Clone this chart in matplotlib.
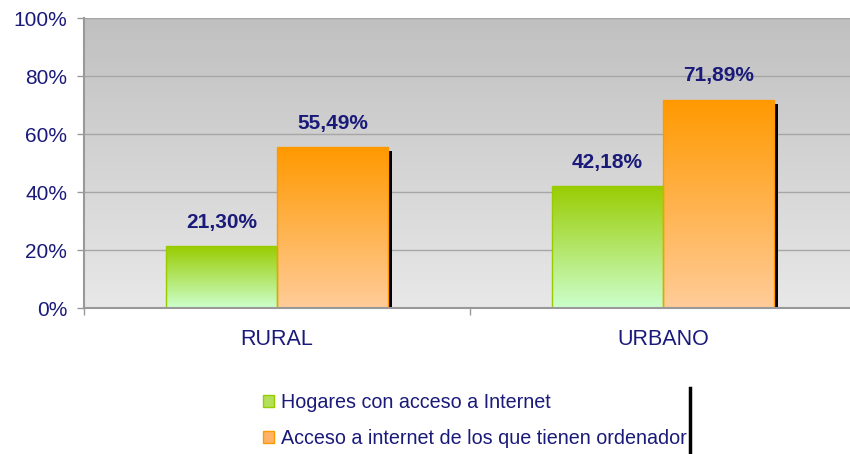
import numpy as np
import matplotlib
matplotlib.use("Agg")
import matplotlib.pyplot as plt
from matplotlib.patches import Patch
from matplotlib.lines import Line2D
from matplotlib.colors import LinearSegmentedColormap
import matplotlib.patheffects as pe

categories = ["RURAL", "URBANO"]
hogares = [21.30, 42.18]
acceso_ordenador = [55.49, 71.89]
series_names = ["Hogares con acceso a Internet",
                "Acceso a internet de los que tienen ordenador"]
yticks = [0, 20, 40, 60, 80, 100]

plt.rcParams['font.family'] = ['Liberation Sans', 'DejaVu Sans']
navy = '#1a1a7a'

fig = plt.figure(figsize=(8.5, 4.54), dpi=100)
ax = fig.add_axes([84/850, 146/454, 772/850, 290/454])

x = np.arange(len(categories))
w = 0.287
ax.set_xlim(-0.5, len(categories) - 0.5)
ax.set_ylim(0, 100)

# background gradient
bg = LinearSegmentedColormap.from_list('bg', ['#e8e8e8', '#c0c0c0'])
ax.imshow(np.linspace(0, 1, 256).reshape(-1, 1), cmap=bg, aspect='auto',
          extent=[0, 1, 0, 1], transform=ax.transAxes, origin='lower', zorder=0)

for yv in yticks[1:]:
    ax.axhline(yv, color='#a6a6a6', lw=1.0, zorder=1)

green_cmap = LinearSegmentedColormap.from_list('g', ['#ccffcc', '#99cc00'])
orange_cmap = LinearSegmentedColormap.from_list('o', ['#ffcc99', '#ff9900'])

b1 = ax.bar(x - w, hogares, width=w, align='edge', facecolor='none',
            edgecolor='#99cc00', lw=1.0, zorder=3)
b2 = ax.bar(x, acceso_ordenador, width=w, align='edge', facecolor='none',
            edgecolor='#ff9900', lw=1.0, zorder=3)

# shadow for orange bars
ax.bar(x, acceso_ordenador, width=w, align='edge', facecolor='black',
       edgecolor='none', zorder=2,
       path_effects=[pe.withSimplePatchShadow(offset=(3.0, -3.0), shadow_rgbFace='black', alpha=1.0)])

grad = np.linspace(0, 1, 256).reshape(-1, 1)
for bars, cm in ((b1, green_cmap), (b2, orange_cmap)):
    for r in bars:
        x0, y0 = r.get_x(), r.get_y()
        im = ax.imshow(grad, cmap=cm, aspect='auto', origin='lower',
                       extent=[x0, x0 + r.get_width(), y0, y0 + r.get_height()], zorder=2.5)
        im.set_clip_path(r)
ax.set_xlim(-0.5, len(categories) - 0.5)
ax.set_ylim(0, 100)

def fmt(v):
    return f"{v:.2f}".replace('.', ',') + '%'

for bars, vals in ((b1, hogares), (b2, acceso_ordenador)):
    for r, v in zip(bars, vals):
        ax.annotate(fmt(v), (r.get_x() + r.get_width() / 2, v), xytext=(0, 17),
                    textcoords='offset points', ha='center', va='center',
                    fontsize=15, fontweight='bold', color=navy, zorder=5)

ax.set_yticks(yticks)
ax.set_yticklabels([f"{t}%" for t in yticks])
ax.tick_params(axis='y', colors='#999999', labelcolor=navy, labelsize=15,
               length=5, width=1, pad=7)
ax.set_xticks([-0.5, 0.5, 1.5])
ax.set_xticklabels([])
ax.set_xticks(x, minor=True)
ax.set_xticklabels(categories, minor=True)
ax.tick_params(axis='x', which='major', colors='#999999', length=5, width=1)
ax.tick_params(axis='x', which='minor', length=0, labelsize=15.5, labelcolor=navy, pad=15)

for s in ('top', 'right'):
    ax.spines[s].set_visible(False)
for s in ('left', 'bottom'):
    ax.spines[s].set_color('#999999')
    ax.spines[s].set_linewidth(1.5)
    ax.spines[s].set_zorder(4)

handles = [Patch(facecolor='#b3e05a', edgecolor='#99cc00', label=series_names[0]),
           Patch(facecolor='#ffb366', edgecolor='#ff9900', label=series_names[1])]
leg = fig.legend(handles=handles, loc='upper left', bbox_to_anchor=(249/850, 1 - 379/454),
                 frameon=False, fontsize=14.2, handlelength=0.55, handleheight=0.55,
                 handletextpad=0.35, labelspacing=0.85, borderpad=0.2)
for t in leg.get_texts():
    t.set_color(navy)

fig.add_artist(Line2D([689.5/850, 689.5/850], [1 - 388/454, 1 - 452/454],
                      transform=fig.transFigure, color='black', lw=2.5))

fig.savefig('out.png', dpi=100)
